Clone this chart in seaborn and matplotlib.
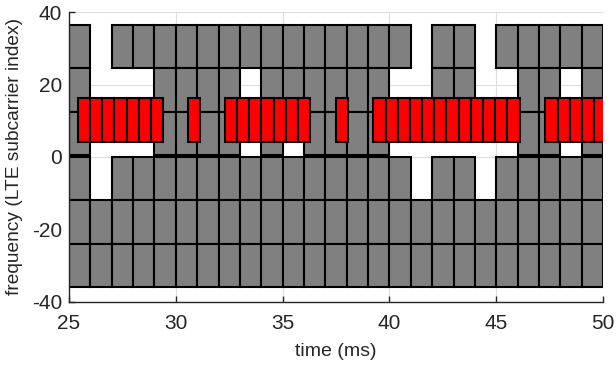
import numpy as np
import matplotlib
matplotlib.use("Agg")
import matplotlib.pyplot as plt
import seaborn as sns

# time slots (ms), one column each
slots = np.arange(25, 50)

# row bottoms (subcarrier index), each row is 12 subcarriers tall
row_bottoms = [24.5, 12.5, 0.5, -12, -24, -36]
row_height = 12

# occupied LTE resource blocks per row (1 = busy, 0 = free)
row_top    = [1,0,1,1,1,1,1,1,1,1,1,1,1,1,1,1,0,1,1,0,1,1,1,1,1]
row_upper  = [1,0,0,0,1,1,1,1,0,1,1,1,1,1,1,0,0,1,1,0,0,1,1,0,1]
row_mid    = [1,0,0,0,1,1,1,1,0,1,0,1,1,1,1,0,0,0,0,0,0,1,1,0,1]
row_low1   = [1,0,1,1,1,1,1,1,1,1,1,1,1,1,1,1,0,1,1,0,1,1,1,1,1]
row_low2   = [1]*25
row_low3   = [1]*25
rows = [row_top, row_upper, row_mid, row_low1, row_low2, row_low3]

# red bursts: start time (ms) and number of symbols
burst_start = [25.42, 30.58, 32.30, 37.50, 39.25, 47.30]
burst_count = [7, 1, 7, 1, 12, 5]
symbol_len = 0.57
burst_low, burst_high = 4.2, 16.2

sns.set_theme(style="white")
plt.rcParams['font.family'] = ['Liberation Sans', 'DejaVu Sans']
plt.rcParams['axes.unicode_minus'] = False

fig = plt.figure(figsize=(6.16, 3.71), dpi=100)
ax = fig.add_axes([0.112, 0.187, 0.867, 0.780])

# gray resource blocks
for bottom, occ in zip(row_bottoms, rows):
    occ = np.array(occ, dtype=bool)
    ax.bar(slots[occ], row_height, width=1, bottom=bottom, align='edge',
           color='#808080', edgecolor='black', linewidth=1.5, zorder=2)

# red bursts on top
for start, n in zip(burst_start, burst_count):
    xs = start + symbol_len*np.arange(n)
    ax.bar(xs, burst_high - burst_low, width=symbol_len, bottom=burst_low,
           align='edge', color='#ff0000', edgecolor='black', linewidth=1.5,
           zorder=3)

ax.set_xlim(25, 50)
ax.set_ylim(-40, 40)
ax.set_xticks([25, 30, 35, 40, 45, 50])
ax.set_yticks([-40, -20, 0, 20, 40])
ax.grid(True, color='#dedede', linewidth=0.8, zorder=0)
ax.set_axisbelow(True)
for s in ['top', 'right']:
    ax.spines[s].set_visible(False)
for s in ['left', 'bottom']:
    ax.spines[s].set_color('#262626')
    ax.spines[s].set_linewidth(1.0)
ax.tick_params(direction='in', length=4, width=1, colors='#262626',
               labelsize=15, labelcolor='#262626', left=True, bottom=True)
ax.tick_params(axis='x', pad=9)
ax.tick_params(axis='y', pad=5)
ax.set_xlabel("time (ms)", fontsize=14, color='#262626', labelpad=7)
ax.set_ylabel("frequency (LTE subcarrier index)", fontsize=13.8,
              color='#262626', labelpad=6)

fig.savefig("out.png", dpi=100)
